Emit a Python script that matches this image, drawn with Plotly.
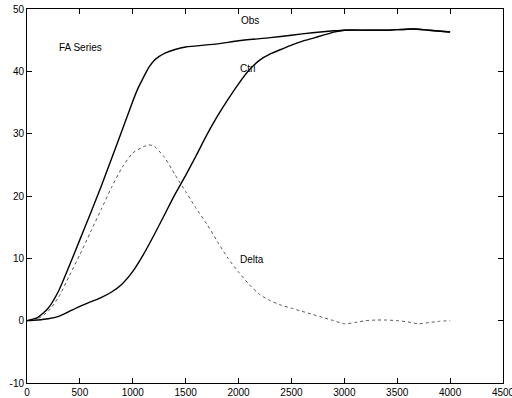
import plotly.graph_objects as go

x_obs = [0, 100, 200, 300, 400, 500, 600, 700, 800, 900, 1000, 1050, 1100, 1150, 1200, 1250, 1300,
         1400, 1500, 1800, 2000, 2300, 2500, 2700, 2900, 3000, 3200, 3400, 3650, 3800, 4000]
obs = [0, 0.5, 2.0, 4.8, 8.8, 13.0, 17.2, 21.5, 26.0, 30.6, 35.2, 37.3, 39.0, 40.6, 41.7, 42.4, 42.9,
       43.5, 43.9, 44.4, 44.9, 45.4, 45.8, 46.2, 46.5, 46.6, 46.6, 46.6, 46.8, 46.6, 46.3]

x_ctrl = [0, 100, 200, 300, 400, 500, 600, 700, 800, 900, 1000, 1100, 1200, 1300, 1400, 1500, 1600,
          1700, 1800, 1900, 2000, 2100, 2200, 2300, 2400, 2500, 2600, 2700, 2800, 2900, 3000, 3200,
          3400, 3650, 3800, 4000]
ctrl = [0, 0.1, 0.3, 0.7, 1.5, 2.3, 3.0, 3.7, 4.6, 5.9, 7.9, 10.6, 13.7, 17.0, 20.3, 23.3, 26.5,
        29.8, 32.8, 35.5, 38.0, 40.2, 41.8, 42.8, 43.5, 44.2, 44.8, 45.3, 45.8, 46.3, 46.6, 46.6,
        46.6, 46.8, 46.6, 46.3]

x_delta = [0, 100, 200, 300, 400, 500, 600, 700, 800, 900, 1000, 1100, 1150, 1200, 1300, 1400, 1500,
           1600, 1700, 1800, 1900, 2000, 2100, 2200, 2300, 2400, 2500, 2600, 2700, 2800, 2900, 3000,
           3100, 3200, 3300, 3400, 3500, 3600, 3700, 3800, 3900, 4000]
delta = [0, 0.3, 1.5, 3.8, 7.2, 10.6, 14.2, 17.8, 21.4, 24.6, 26.9, 27.9, 28.2, 28.0, 26.2, 23.4, 20.7,
         18.0, 15.5, 12.7, 10.0, 7.8, 5.8, 4.2, 3.2, 2.5, 2.0, 1.5, 1.0, 0.5, 0.0, -0.5,
         -0.3, 0.0, 0.1, 0.1, 0.0, -0.2, -0.5, -0.3, -0.1, 0.0]

x_ticks = [0, 500, 1000, 1500, 2000, 2500, 3000, 3500, 4000, 4500]
y_ticks = [-10, 0, 10, 20, 30, 40, 50]

labels = ["FA Series", "Obs", "Ctrl", "Delta"]
label_x = [280, 2000, 1995, 1995]
label_y = [43.8, 48.2, 40.5, 9.8]

FONT = "Liberation Sans, Arial, Helvetica"

fig = go.Figure()
fig.add_trace(go.Scatter(x=x_obs, y=obs, mode="lines", line=dict(color="black", width=1.4, shape="spline", smoothing=0.6)))
fig.add_trace(go.Scatter(x=x_ctrl, y=ctrl, mode="lines", line=dict(color="black", width=1.4, shape="spline", smoothing=0.6)))
fig.add_trace(go.Scatter(x=x_delta, y=delta, mode="lines",
                         line=dict(color="#555555", width=1, dash="dot", shape="spline", smoothing=0.6)))

for t, lx, ly in zip(labels, label_x, label_y):
    fig.add_annotation(x=lx, y=ly, text=t, showarrow=False, xanchor="left", yanchor="middle",
                       font=dict(family=FONT, size=10, color="black"))

axis_common = dict(showgrid=False, zeroline=False, ticks="inside", ticklen=5, tickcolor="black",
                   linecolor="black", linewidth=1, mirror="ticks", showline=True,
                   ticklabeloverflow="allow",
                   tickfont=dict(family=FONT, size=10, color="black"))
fig.update_xaxes(range=[0, 4500], tickvals=x_ticks, ticktext=[str(v) for v in x_ticks], **axis_common)
fig.update_yaxes(range=[-10, 50], tickvals=y_ticks, ticktext=[str(v) for v in y_ticks], **axis_common)

fig.update_layout(width=512, height=398, showlegend=False, plot_bgcolor="white", paper_bgcolor="white",
                  margin=dict(l=27, r=9, t=8.5, b=14.5, autoexpand=False))
fig.write_html("out.html")
